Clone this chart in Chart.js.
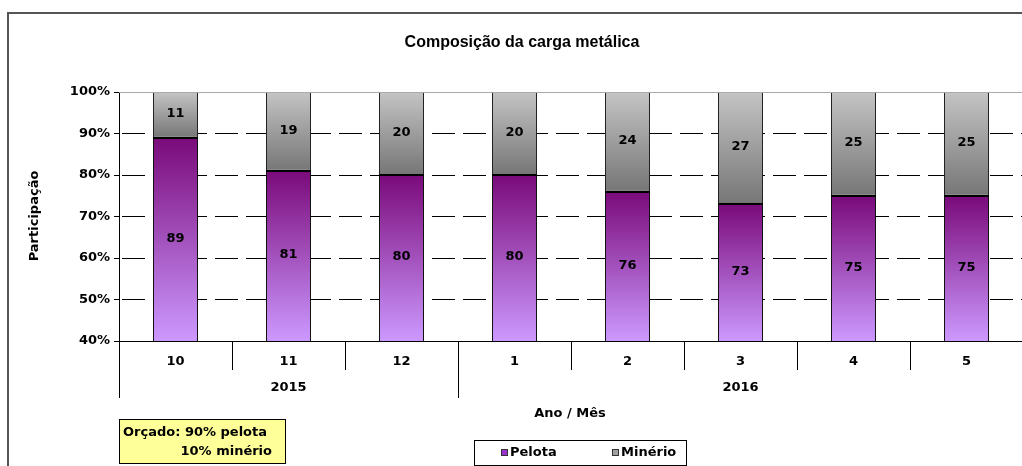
<!DOCTYPE html>
<html>
<head>
<meta charset="utf-8">
<script src="https://cdn.jsdelivr.net/npm/chart.js@4"></script>
<style>
  html, body { margin: 0; padding: 0; background: #fff; overflow: hidden; }
  #wrap { position: absolute; left: 0; top: 0; width: 1023px; height: 466px; }
</style>
</head>
<body>
<div id="wrap"><canvas id="chart_carga"></canvas></div>
<script>
// dados do gráfico
const meses = ['10', '11', '12', '1', '2', '3', '4', '5'];
const anos = ['2015', '2015', '2015', '2016', '2016', '2016', '2016', '2016'];
const pelota = [89, 81, 80, 80, 76, 73, 75, 75];
const minerio = [11, 19, 20, 20, 24, 27, 25, 25];
const yTicks = [40, 50, 60, 70, 80, 90, 100];

const fonte = 'DejaVu Sans';

function gradPelota(c) {
    const chart = c.chart;
    const area = chart.chartArea;
    if (!area) return '#9933cc';
    const top = chart.scales.y.getPixelForValue(pelota[c.dataIndex]);
    const g = chart.ctx.createLinearGradient(0, top, 0, area.bottom);
    g.addColorStop(0, '#7a0a7a');
    g.addColorStop(1, '#cc99ff');
    return g;
}

function gradMinerio(c) {
    const chart = c.chart;
    const area = chart.chartArea;
    if (!area) return '#a0a0a0';
    const y = chart.scales.y;
    const top = y.getPixelForValue(100);
    const bottom = y.getPixelForValue(pelota[c.dataIndex]);
    const g = chart.ctx.createLinearGradient(0, top, 0, bottom);
    g.addColorStop(0, '#c4c4c4');
    g.addColorStop(1, '#767676');
    return g;
}

// rótulos dentro das barras + linha preta entre pelota e minério
const rotulos = {
    id: 'rotulos',
    afterDatasetsDraw(chart) {
        const ctx = chart.ctx;
        const area = chart.chartArea;
        ctx.save();
        ctx.fillStyle = '#000';
        chart.getDatasetMeta(0).data.forEach(el => {
            ctx.fillRect(Math.round(el.x - el.width / 2), Math.round(el.y) - 1, Math.round(el.width), 2);
        });
        ctx.font = 'bold 13px ' + fonte;
        ctx.textAlign = 'center';
        ctx.textBaseline = 'middle';
        chart.data.datasets.forEach((ds, i) => {
            chart.getDatasetMeta(i).data.forEach((el, j) => {
                const top = Math.max(Math.min(el.y, el.base), area.top);
                const bottom = Math.min(Math.max(el.y, el.base), area.bottom);
                ctx.fillText(String(ds.data[j]), el.x, (top + bottom) / 2 - 1);
            });
        });
        ctx.restore();
    }
};

// moldura, títulos, eixo x em dois níveis, legenda e nota
const extras = {
    id: 'extras',
    beforeDraw(chart) {
        const ctx = chart.ctx;
        ctx.save();
        ctx.fillStyle = '#fff';
        ctx.fillRect(0, 0, chart.width, chart.height);
        ctx.restore();
    },
    afterDraw(chart) {
        const ctx = chart.ctx;
        const area = chart.chartArea;
        const x = chart.scales.x;
        ctx.save();

        // moldura externa
        ctx.strokeStyle = '#555';
        ctx.lineWidth = 2;
        ctx.strokeRect(8, 13, 1040, 500);

        // borda superior da área do gráfico
        ctx.strokeStyle = '#aaa';
        ctx.lineWidth = 1;
        ctx.beginPath();
        ctx.moveTo(area.left, area.top + 0.5);
        ctx.lineTo(area.right, area.top + 0.5);
        ctx.stroke();

        // título
        ctx.fillStyle = '#000';
        ctx.textAlign = 'center';
        ctx.textBaseline = 'middle';
        ctx.font = 'bold 16px "Liberation Sans"';
        ctx.fillText('Composição da carga metálica', 522, 43);

        // eixo x: meses e anos
        const meio = (x.getPixelForValue(1) - x.getPixelForValue(0)) / 2;
        ctx.strokeStyle = '#000';
        ctx.lineWidth = 1;
        ctx.font = 'bold 13px ' + fonte;
        for (let i = 0; i <= meses.length; i++) {
            const bx = Math.round(i < meses.length ? x.getPixelForValue(i) - meio : x.getPixelForValue(i - 1) + meio) + 0.5;
            const longa = i === 0 || i === meses.length || anos[i] !== anos[i - 1];
            ctx.beginPath();
            ctx.moveTo(bx, area.bottom);
            ctx.lineTo(bx, longa ? area.bottom + 57 : area.bottom + 29);
            ctx.stroke();
        }
        meses.forEach((m, i) => {
            ctx.fillText(m, x.getPixelForValue(i), area.bottom + 21);
        });
        let ini = 0;
        for (let i = 1; i <= anos.length; i++) {
            if (i === anos.length || anos[i] !== anos[ini]) {
                const cx = (x.getPixelForValue(ini) + x.getPixelForValue(i - 1)) / 2;
                ctx.fillText(anos[ini], cx, area.bottom + 47);
                ini = i;
            }
        }

        // títulos dos eixos
        ctx.fillText('Ano / Mês', 570, 414);
        ctx.save();
        ctx.translate(35, 216);
        ctx.rotate(-Math.PI / 2);
        ctx.fillText('Participação', 0, 0);
        ctx.restore();

        // nota do orçado
        ctx.fillStyle = '#ffff99';
        ctx.fillRect(119, 419, 166, 44);
        ctx.strokeStyle = '#000';
        ctx.strokeRect(119.5, 419.5, 166, 44);
        ctx.fillStyle = '#000';
        ctx.textAlign = 'left';
        ctx.fillText('Orçado: 90% pelota', 123, 433);
        ctx.textAlign = 'right';
        ctx.fillText('10% minério', 272, 452);

        // legenda
        ctx.fillStyle = '#fff';
        ctx.fillRect(474, 440, 212, 25);
        ctx.strokeStyle = '#000';
        ctx.strokeRect(474.5, 440.5, 212, 25);
        const leg = [
            { x: 501, cor: '#9933cc', nome: chart.data.datasets[0].label },
            { x: 612, cor: '#a0a0a0', nome: chart.data.datasets[1].label }
        ];
        ctx.textAlign = 'left';
        leg.forEach(l => {
            ctx.fillStyle = l.cor;
            ctx.fillRect(l.x, 449, 7, 7);
            ctx.strokeStyle = '#333';
            ctx.strokeRect(l.x + 0.5, 449.5, 6, 6);
            ctx.fillStyle = '#000';
            ctx.fillText(l.nome, l.x + 9, 453);
        });

        ctx.restore();
    }
};

new Chart(document.getElementById('chart_carga'), {
    type: 'bar',
    data: {
        labels: meses,
        datasets: [{
            label: 'Pelota',
            data: pelota,
            backgroundColor: gradPelota,
            borderColor: '#111',
            borderWidth: { top: 1, left: 1, right: 1, bottom: 0 },
            borderSkipped: false,
            inflateAmount: 0,
            categoryPercentage: 1,
            barPercentage: 45 / 113
        },
        {
            label: 'Minério',
            data: minerio,
            backgroundColor: gradMinerio,
            borderColor: '#222',
            borderWidth: { top: 1, left: 1, right: 1, bottom: 1 },
            borderSkipped: false,
            inflateAmount: 0,
            categoryPercentage: 1,
            barPercentage: 45 / 113
        }]
    },
    options: {
        responsive: true,
        maintainAspectRatio: false,
        animation: false,
        layout: {
            padding: { top: 92, left: 0, right: 0, bottom: 0 }
        },
        scales: {
            x: {
                stacked: true,
                ticks: { display: false },
                grid: { display: false },
                border: { color: '#000', width: 1 },
                afterFit(scale) { scale.height = 125; }
            },
            y: {
                stacked: true,
                min: 40,
                max: 100,
                afterBuildTicks(scale) {
                    scale.ticks = yTicks.map(v => ({ value: v }));
                },
                ticks: {
                    color: '#000',
                    padding: 4,
                    font: { family: fonte, weight: 'bold', size: 13 },
                    callback: v => v + '%'
                },
                grid: {
                    color: c => (c.tick && (c.tick.value === 100 || c.tick.value === 40)) ? 'rgba(0,0,0,0)' : '#000',
                    tickColor: '#000',
                    tickLength: 5,
                    lineWidth: 1
                },
                border: { color: '#000', width: 1, dash: [23, 8], dashOffset: -2 },
                afterFit(scale) { scale.width = 119; }
            }
        },
        plugins: {
            legend: { display: false },
            title: { display: false },
            tooltip: { enabled: false }
        }
    },
    plugins: [rotulos, extras]
});
</script>
</body>
</html>
